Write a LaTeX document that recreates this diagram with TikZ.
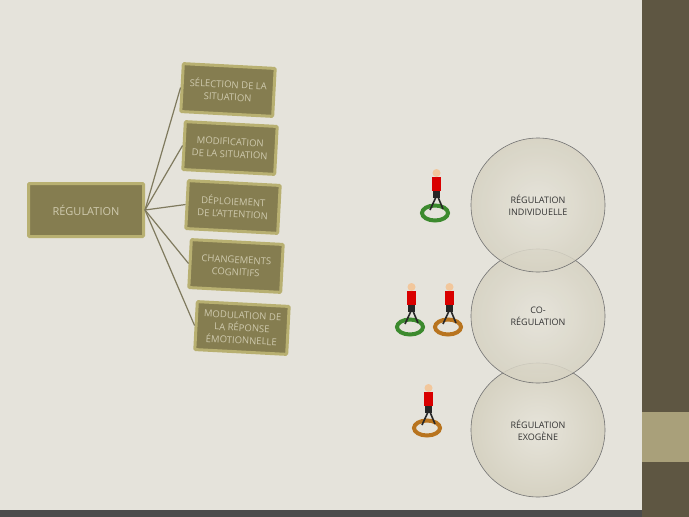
\documentclass[tikz,border=0pt]{standalone}
\usepackage{fontspec}
\setmainfont{Open Sans}
\begin{document}
\begin{tikzpicture}[x=1pt,y=-1pt,
  box/.style={draw=boxedge,line width=3pt,fill=boxfill,text=boxtext,align=center,font=\fontsize{9.5}{12.5}\selectfont,inner sep=2pt,rounded corners=1pt},
  circ/.style={circle,draw=black!55,line width=0.6pt,inner color=cfill!60!white,outer color=cfill,minimum size=134pt,align=center,font=\fontsize{9}{12}\selectfont,text=black!80},
  link/.style={draw=linkc,line width=1.2pt}]
\definecolor{bg}{HTML}{E5E3DB}
\definecolor{strip}{HTML}{5E5642}
\definecolor{stripl}{HTML}{A9A07A}
\definecolor{boxfill}{HTML}{857D50}
\definecolor{boxedge}{HTML}{B8B071}
\definecolor{boxtext}{HTML}{CFCAAE}
\definecolor{linkc}{HTML}{7F7A5E}
\definecolor{cfill}{HTML}{D6D2C2}
\definecolor{ringg}{HTML}{3C8A2E}
\definecolor{ringo}{HTML}{B8741F}
\useasboundingbox (0,0) rectangle (689,517);
\fill[bg] (0,0) rectangle (689,517);
\fill[strip] (642,0) rectangle (689,517);
\fill[stripl] (642,412) rectangle (689,462);
\fill[black!70] (0,510) rectangle (642,517);
\node[box,minimum width=115pt,minimum height=53pt,font=\fontsize{11}{13}\selectfont] (r) at (86,210) {RÉGULATION};
\foreach \n/\x/\y/\t in {a/228/90/{SÉLECTION DE LA\\SITUATION},b/230/148/{MODIFICATION\\DE LA SITUATION},c/233/207/{DÉPLOIEMENT\\DE L'ATTENTION},d/236/266/{CHANGEMENTS\\COGNITIFS},e/242/328/{MODULATION DE\\LA RÉPONSE\\ÉMOTIONNELLE}}{
  \node[box,minimum width=92pt,minimum height=48pt,rotate=-3] (\n) at (\x,\y) {\t};
  \draw[link] (r.east) -- (\n.west);
}
\node[circ] (c3) at (538,430) {RÉGULATION\\EXOGÈNE};
\node[circ,fill opacity=0.85,text opacity=1] (c2) at (538,316) {CO-\\RÉGULATION};
\node[circ,fill opacity=0.85,text opacity=1] (c1) at (538,205) {RÉGULATION\\INDIVIDUELLE};
\foreach \x/\y/\c in {435/213/ringg,410/327/ringg,448/327/ringo,427/428/ringo}{
  \draw[\c,line width=4pt] (\x,\y) ellipse (13 and 7.5);
  \begin{scope}[shift={(\x,\y)}]
    \draw[black!85,line width=1.6pt] (1,-16) -- (-5,-3) (3,-16) -- (8,-4);
    \fill[black!85] (-2,-23) rectangle (5,-15);
    \fill[red!85!black] (-3,-36) rectangle (6,-22);
    \fill[orange!30!white!80!brown] (1.5,-40) circle (4);
  \end{scope}
}
\end{tikzpicture}
\end{document}
